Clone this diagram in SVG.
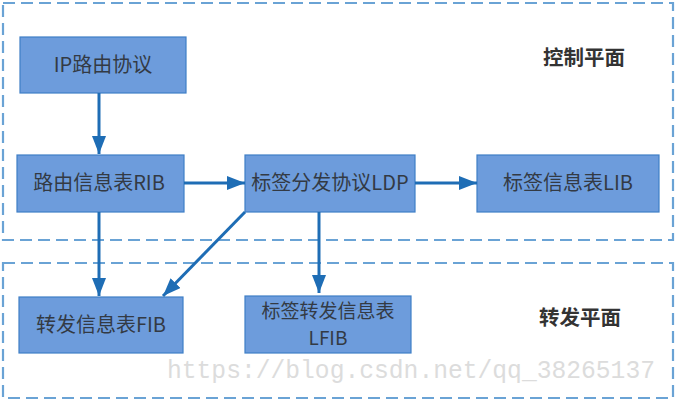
<svg xmlns="http://www.w3.org/2000/svg" width="677" height="402" viewBox="0 0 677 402">
<style>
.plane{fill:none;stroke:#6aa3d5;stroke-width:2.2;stroke-dasharray:12 6}
.box{fill:#6d9cdc;stroke:#3f7fc6;stroke-width:1.2}
.t{font-family:"Noto Sans CJK SC","Liberation Sans",sans-serif;font-size:20px;fill:#333a44;text-anchor:middle}
.t2{font-size:19px}
.pl{font-family:"Noto Sans CJK SC","Liberation Sans",sans-serif;font-size:20.5px;font-weight:bold;fill:#333;text-anchor:middle}
.c{fill:none;stroke:#1e6db5;stroke-width:3}
.wm{font-family:"Liberation Mono",monospace;font-size:25px;fill:#dcdcdc}
</style>
<defs>
<marker id="ah" markerUnits="userSpaceOnUse" markerWidth="20" markerHeight="14" refX="18" refY="7" orient="auto">
<polygon points="0,0 18,7 0,14" fill="#1e6db5"/>
</marker>
</defs>
<rect class="plane" x="3" y="3" width="670" height="237"/>
<rect class="plane" x="3" y="263" width="670" height="135"/>
<text class="pl" x="584" y="65">控制平面</text>
<text class="pl" x="580" y="325">转发平面</text>
<g id="n-ip"><rect class="box" x="20" y="37" width="166" height="56"/><text class="t" x="103" y="72">IP路由协议</text></g>
<g id="n-rib"><rect class="box" x="17" y="155" width="167" height="57"/><text class="t" x="99" y="190">路由信息表RIB</text></g>
<g id="n-ldp"><rect class="box" x="245" y="155" width="170" height="57"/><text class="t" x="330" y="190">标签分发协议LDP</text></g>
<g id="n-lib"><rect class="box" x="477" y="155" width="182" height="57"/><text class="t" x="568" y="190">标签信息表LIB</text></g>
<g id="n-fib"><rect class="box" x="19" y="297" width="164" height="56"/><text class="t" x="101" y="332">转发信息表FIB</text></g>
<g id="n-lfib"><rect class="box" x="245" y="296" width="166" height="57"/><text class="t t2" x="328" y="318">标签转发信息表</text><text class="t t2" x="328" y="345">LFIB</text></g>
<g id="connectors">
<line class="c" x1="99" y1="93" x2="99" y2="154" marker-end="url(#ah)"/>
<line class="c" x1="184" y1="183" x2="245" y2="183" marker-end="url(#ah)"/>
<line class="c" x1="415" y1="183" x2="477" y2="183" marker-end="url(#ah)"/>
<line class="c" x1="99" y1="212" x2="99" y2="296" marker-end="url(#ah)"/>
<line class="c" x1="245" y1="212" x2="163" y2="296" marker-end="url(#ah)"/>
<line class="c" x1="319" y1="212" x2="319" y2="293" marker-end="url(#ah)"/>
</g>
<text class="wm" x="167" y="378" textLength="488" lengthAdjust="spacingAndGlyphs">https://blog.csdn.net/qq_38265137</text>
</svg>
